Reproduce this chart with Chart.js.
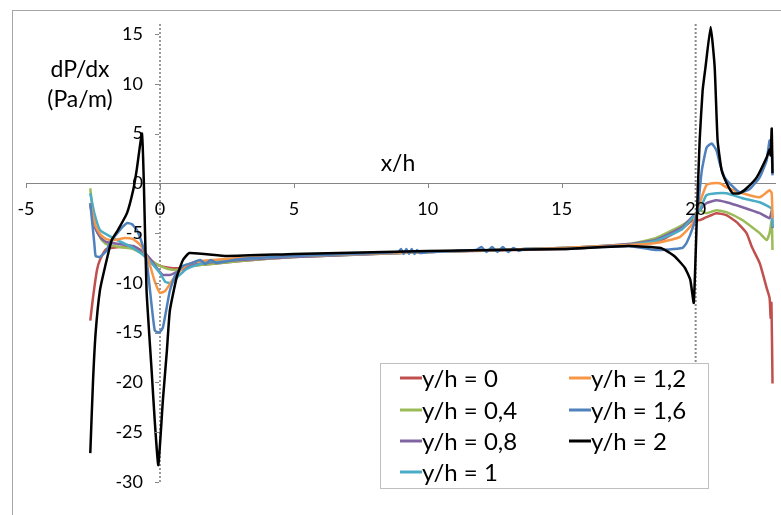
<!DOCTYPE html>
<html>
<head>
<meta charset="utf-8">
<script src="https://cdn.jsdelivr.net/npm/chart.js@4.4.1/dist/chart.umd.min.js"></script>
<style>
  html, body { margin: 0; padding: 0; background: #fff; }
  #wrap { width: 781px; height: 515px; }
</style>
</head>
<body>
<div id="wrap"><canvas id="dpChart"></canvas></div>
<script>
// series labels and colours (Excel 2007 palette)
const labels = ['y/h = 0', 'y/h = 0,4', 'y/h = 0,8', 'y/h = 1', 'y/h = 1,2', 'y/h = 1,6', 'y/h = 2'];
const colors = ['#C0504D', '#9BBB59', '#8064A2', '#4BACC6', '#F79646', '#4F81BD', '#000000'];

// y/h = 0
const x_h0 = [-2.6, -2.5, -2.35, -2.24, -2.0, -1.5, -1.0, -0.6, -0.3, 0, 0.4, 0.75, 1.1, 1.9, 3, 5, 10, 15, 17.5, 18.7, 19.5, 19.9, 20.15, 20.4, 20.78, 21.15, 21.53, 21.9, 22.1, 22.39, 22.57, 22.65, 22.76, 22.8, 22.83, 22.87];
const dp_h0 = [-13.8, -11.5, -8.7, -7.7, -6.6, -6.4, -6.5, -7.0, -7.8, -8.3, -8.5, -8.5, -8.3, -8.1, -7.8, -7.4, -6.9, -6.6, -6.2, -5.7, -4.5, -3.7, -3.7, -3.4, -3.0, -3.2, -3.9, -5.0, -6.4, -8.0, -9.7, -10.5, -11.5, -13.5, -12.0, -20.1];

// y/h = 0,4
const x_h04 = [-2.6, -2.5, -2.4, -2.2, -2.0, -1.5, -1.0, -0.6, -0.3, 0, 0.3, 0.63, 1.0, 1.5, 3, 5, 10, 15, 17.5, 18.5, 19.5, 19.9, 20.15, 20.4, 20.78, 21.15, 21.75, 22.1, 22.39, 22.65, 22.76, 22.84, 22.87];
const dp_h04 = [-0.5, -3.0, -4.5, -5.6, -6.1, -6.4, -6.6, -7.2, -7.8, -8.3, -8.6, -8.7, -8.4, -8.2, -7.8, -7.4, -6.9, -6.5, -6.1, -5.5, -4.2, -3.4, -2.7, -3.0, -2.7, -2.9, -3.7, -4.4, -5.0, -5.7, -5.0, -3.7, -6.7];

// y/h = 0,8
const x_h08 = [-2.6, -2.5, -2.4, -2.2, -2.0, -1.5, -1.0, -0.6, -0.3, 0, 0.11, 0.4, 0.8, 1.2, 2, 3, 5, 10, 15, 17.5, 18.5, 19.5, 19.9, 20.15, 20.4, 20.78, 21.15, 21.75, 22.39, 22.76, 22.84, 22.87];
const dp_h08 = [-2.2, -3.5, -4.6, -5.5, -5.9, -6.1, -6.3, -6.9, -7.8, -8.9, -9.2, -9.2, -8.7, -8.2, -7.9, -7.7, -7.4, -6.9, -6.5, -6.1, -5.7, -4.4, -3.3, -2.7, -2.0, -1.7, -1.9, -2.4, -3.0, -3.5, -2.8, -4.5];

// y/h = 1
const x_h1 = [-2.6, -2.45, -2.24, -1.75, -1.0, -0.5, 0, 0.2, 0.4, 0.7, 1.0, 1.5, 2, 3, 5, 10, 15, 17.5, 18.5, 19.5, 19.9, 20.15, 20.4, 20.78, 21.15, 21.75, 22.39, 22.76, 22.84, 22.87];
const dp_h1 = [-1.0, -3.0, -4.7, -5.5, -6.5, -7.5, -9.0, -9.9, -10.0, -9.3, -8.6, -8.1, -7.8, -7.6, -7.3, -6.9, -6.5, -6.2, -5.8, -4.6, -3.4, -2.7, -1.2, -1.0, -1.0, -1.5, -1.9, -2.4, -2.6, -4.4];

// y/h = 1,2
const x_h12 = [-2.6, -2.5, -2.4, -2.2, -2.0, -1.7, -1.3, -1.0, -0.7, -0.4, -0.2, 0, 0.2, 0.5, 0.9, 1.3, 2, 3, 5, 10, 15, 17.5, 18.5, 19.4, 19.9, 20.15, 20.4, 20.63, 20.9, 21.15, 21.75, 22.39, 22.76, 22.84, 22.87];
const dp_h12 = [-2.0, -3.3, -4.3, -5.2, -5.6, -5.7, -5.5, -5.6, -6.3, -8.0, -9.8, -11.0, -10.8, -9.6, -8.4, -7.9, -7.7, -7.5, -7.3, -6.9, -6.5, -6.2, -6.0, -5.4, -4.0, -2.0, -0.2, 0, 0, -0.4, -1.0, -1.4, -0.7, -1.0, -3.5];

// y/h = 1,6 (noisy in the middle)
const x_h16 = [-2.6, -2.45, -2.4, -2.24, -2.0, -1.87, -1.5, -1.23, -1.05, -0.86, -0.67, -0.5, -0.3, -0.19, -0.03, 0.11, 0.37, 0.56, 0.86, 1.2, 1.5, 1.7, 1.9, 2.1, 3, 5,
  8.9, 9.0, 9.1, 9.2, 9.3, 9.4, 9.5, 9.6, 9.7, 10, 11.8, 12.0, 12.2, 12.4, 12.6, 12.8, 13.0, 13.2, 13.4, 13.6, 15, 17.5, 18.5, 19.5, 19.66, 19.9, 20.07, 20.2, 20.25, 20.41, 20.6, 20.78, 20.9, 21.08, 21.34, 21.64, 22.01, 22.39, 22.65, 22.76, 22.84, 22.87];
const dp_h16 = [-2.0, -6.0, -7.3, -7.4, -6.8, -6.0, -4.7, -4.0, -4.1, -4.7, -6.0, -7.7, -12.5, -14.8, -15.0, -14.5, -10.8, -9.3, -8.3, -8.0, -7.7, -8.1, -7.7, -8.0, -7.6, -7.3,
  -6.9, -6.6, -7.1, -6.6, -7.1, -6.6, -7.1, -6.7, -7.0, -6.9, -6.7, -6.4, -6.9, -6.4, -6.9, -6.4, -6.9, -6.5, -6.8, -6.6, -6.6, -6.3, -6.7, -6.5, -6.0, -4.4, -2.7, 0.6, 1.6, 3.6, 4.0, 3.3, 2.0, 0.6, -0.2, -0.9, -0.6, 0.6, 2.3, 4.3, 3.3, 0.8];

// y/h = 2
const x_h2 = [-2.6, -2.5, -2.4, -2.24, -2.05, -1.8, -1.57, -1.23, -1.0, -0.87, -0.67, -0.6, -0.5, -0.31, -0.19, -0.06, 0.11, 0.26, 0.37, 0.63, 0.86, 1.1, 2.5, 5, 10, 15, 17.5, 18.7, 19.2, 19.6, 19.8, 19.93, 20.05, 20.15, 20.26, 20.37, 20.56, 20.71, 20.82, 20.97, 21.16, 21.38, 21.64, 21.9, 22.28, 22.65, 22.76, 22.8, 22.84, 22.87];
const dp_h2 = [-27.1, -20.0, -15.0, -10.75, -8.4, -5.7, -4.7, -3.0, -0.7, 1.3, 5.0, 0, -10.75, -18.8, -24.0, -28.3, -21.8, -16.8, -12.8, -9.4, -7.7, -7.0, -7.3, -7.1, -6.8, -6.6, -6.3, -6.5, -7.3, -8.5, -9.7, -12.0, -3.0, 4.3, 9.3, 11.7, 15.7, 11.7, 4.3, 1.3, 0, -1.0, -1.0, -0.5, 0.6, 2.6, 3.4, 2.8, 5.5, 1.0];

const xSeries = [x_h0, x_h04, x_h08, x_h1, x_h12, x_h16, x_h2];
const ySeries = [dp_h0, dp_h04, dp_h08, dp_h1, dp_h12, dp_h16, dp_h2];

// axis ranges and ticks
const xMin = -5, xMax = 23, xStep = 5;
const yMin = -30, yMax = 16, yStep = 5;
const markX = 20; // dotted reference line

const FONT = 'Lato, "Liberation Sans", sans-serif';

const datasets = labels.map((lab, i) => ({
  label: lab,
  data: xSeries[i].map((x, k) => ({ x: x, y: ySeries[i][k] })),
  borderColor: colors[i],
  backgroundColor: colors[i],
  borderWidth: 2.5,
  pointRadius: 0,
  tension: 0.15,
  fill: false,
  order: labels.length - i
}));

datasets.push({
  label: 'ref',
  data: [{ x: markX, y: yMax }, { x: markX, y: yMin }],
  borderColor: '#8a8a8a',
  borderWidth: 2,
  borderDash: [2, 2],
  pointRadius: 0,
  order: 20
});

// frame, axis lines, tick marks/labels, axis titles and the boxed legend
const decor = {
  id: 'decor',
  beforeDraw(chart) {
    const c = chart.ctx;
    c.save();
    c.strokeStyle = '#a6a6a6';
    c.lineWidth = 1;
    c.strokeRect(12.5, 10.5, 800, 600);
    c.restore();
  },
  beforeDatasetsDraw(chart) {
    const c = chart.ctx;
    const xs = chart.scales.x, ys = chart.scales.y;
    const x0 = Math.round(xs.getPixelForValue(0));
    const y0 = Math.round(ys.getPixelForValue(0)) + 0.5;
    c.save();
    // x axis (solid) at y = 0
    c.strokeStyle = '#868686';
    c.lineWidth = 1;
    c.beginPath();
    c.moveTo(xs.left, y0);
    c.lineTo(xs.right, y0);
    c.stroke();
    // y axis (dotted) at x = 0
    c.strokeStyle = '#9a9a9a';
    c.lineWidth = 2;
    c.setLineDash([2, 2]);
    c.beginPath();
    c.moveTo(x0, ys.getPixelForValue(yMax));
    c.lineTo(x0, ys.getPixelForValue(yMin));
    c.stroke();
    c.restore();
  },
  afterDraw(chart) {
    const c = chart.ctx;
    const xs = chart.scales.x, ys = chart.scales.y;
    const x0 = Math.round(xs.getPixelForValue(0));
    const y0 = Math.round(ys.getPixelForValue(0));
    c.save();
    // tick marks
    c.strokeStyle = '#868686';
    c.lineWidth = 1;
    c.beginPath();
    xs.ticks.forEach(t => {
      const px = Math.round(xs.getPixelForValue(t.value)) + 0.5;
      c.moveTo(px, y0);
      c.lineTo(px, y0 + 5);
    });
    ys.ticks.forEach(t => {
      const py = Math.round(ys.getPixelForValue(t.value)) + 0.5;
      c.moveTo(x0 - 5, py);
      c.lineTo(x0 - 1, py);
    });
    c.stroke();
    // tick labels
    c.fillStyle = '#000';
    c.font = '18px ' + FONT;
    c.textBaseline = 'middle';
    c.textAlign = 'center';
    xs.ticks.forEach(t => c.fillText(t.label, xs.getPixelForValue(t.value), y0 + 26));
    c.textAlign = 'right';
    ys.ticks.forEach(t => c.fillText(t.label, x0 - 17, ys.getPixelForValue(t.value)));

    // axis titles
    c.textAlign = 'center';
    c.font = '23px ' + FONT;
    c.fillText('dP/dx', 80, 70);
    c.fillText('(Pa/m)', 80, 100);
    c.fillText('x/h', 398, 164);

    // legend box
    const bx = 380.5, by = 363.5, bw = 328, bh = 125;
    c.fillStyle = '#fff';
    c.fillRect(bx, by, bw, bh);
    c.strokeStyle = '#bfbfbf';
    c.strokeRect(bx, by, bw, bh);
    const rows = [378, 410, 441, 472];
    const cols = [400, 569];
    c.font = '24px ' + FONT;
    c.textAlign = 'left';
    labels.forEach((lab, i) => {
      const col = i < 4 ? 0 : 1;
      const row = i < 4 ? i : i - 4;
      const lx = cols[col], ly = rows[row];
      c.strokeStyle = colors[i];
      c.lineWidth = 3;
      c.beginPath();
      c.moveTo(lx, ly);
      c.lineTo(lx + 22, ly);
      c.stroke();
      c.fillStyle = '#000';
      c.fillText(lab, lx + 22, ly + 1);
    });
    c.restore();
  }
};

new Chart(document.getElementById('dpChart'), {
  type: 'line',
  data: { datasets: datasets },
  options: {
    responsive: true,
    maintainAspectRatio: false,
    animation: false,
    layout: { padding: { left: 26, right: 5, top: 24, bottom: 33 } },
    plugins: { legend: { display: false }, tooltip: { enabled: false } },
    scales: {
      x: {
        type: 'linear',
        position: { y: 0 },
        min: xMin, max: xMax,
        grid: { display: false },
        border: { display: false },
        ticks: { stepSize: xStep, includeBounds: false, display: false }
      },
      y: {
        type: 'linear',
        position: { x: 0 },
        min: yMin, max: yMax,
        grid: { display: false },
        border: { display: false },
        ticks: { stepSize: yStep, includeBounds: false, display: false }
      }
    }
  },
  plugins: [decor]
});
</script>
</body>
</html>
